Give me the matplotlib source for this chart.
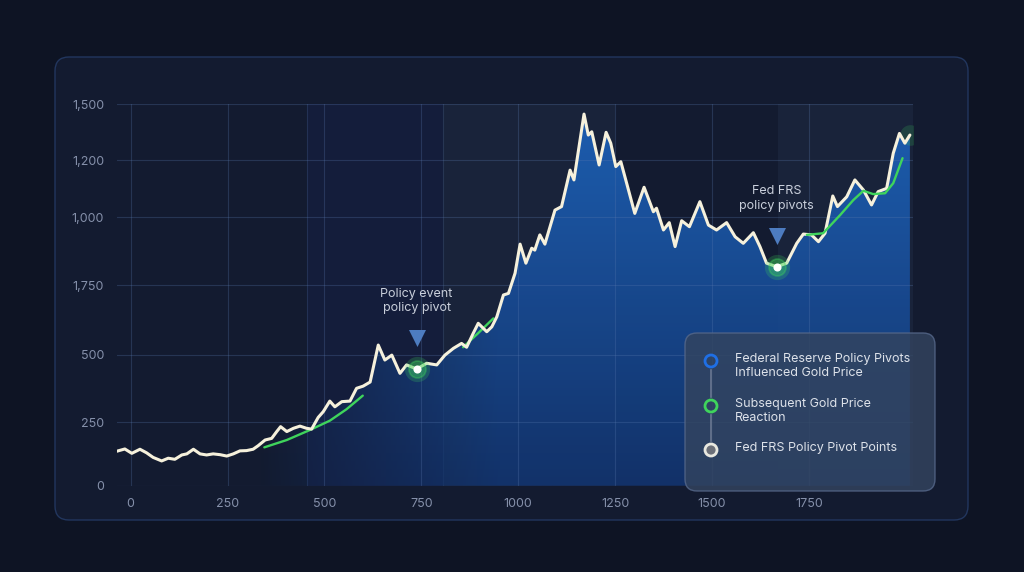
import numpy as np
import matplotlib
matplotlib.use("Agg")
import matplotlib.pyplot as plt
from matplotlib.patches import FancyBboxPatch, Circle, Polygon
from matplotlib import transforms

plt.rcParams['font.family'] = ['Inter', 'DejaVu Sans']

# gold price trace
gold_x = [-40, -15, 3, 24, 41, 58, 80, 97, 114, 132, 145, 162, 179, 196, 213, 231, 248, 265, 282, 299,
          316, 329, 347, 364, 377, 387, 403, 420, 437, 454, 467, 484, 497, 514, 527, 545, 566, 583, 600, 618,
          639, 656, 674, 695, 712, 738, 764, 790, 811, 833, 854, 867, 884, 897, 919, 932, 945, 962, 975, 992,
          1005, 1020, 1035, 1043, 1056, 1069, 1095, 1112, 1134, 1144, 1170, 1181, 1190, 1209, 1227, 1239, 1252, 1265, 1280, 1301,
          1325, 1349, 1357, 1375, 1390, 1405, 1422, 1442, 1469, 1491, 1512, 1538, 1560, 1581, 1607, 1624, 1641, 1667, 1693, 1719,
          1736, 1757, 1775, 1792, 1812, 1824, 1848, 1869, 1891, 1912, 1929, 1951, 1968, 1984, 1998, 2011]
gold_y = [125, 135, 119, 134, 121, 104, 91, 101, 97, 113, 117, 134, 117, 113, 117, 114, 109, 117, 128, 129,
          134, 147, 168, 174, 199, 217, 199, 211, 219, 211, 208, 251, 272, 311, 290, 309, 311, 358, 366, 381,
          517, 462, 480, 413, 444, 429, 450, 444, 480, 505, 523, 509, 560, 597, 566, 584, 621, 701, 707, 781,
          888, 818, 873, 866, 922, 888, 1013, 1026, 1160, 1124, 1366, 1289, 1301, 1179, 1299, 1259, 1173, 1191, 1112, 1001,
          1097, 1007, 1020, 940, 967, 879, 974, 952, 1044, 958, 940, 967, 915, 891, 930, 879, 818, 805, 818, 891,
          925, 922, 897, 928, 1065, 1026, 1062, 1124, 1087, 1032, 1081, 1093, 1222, 1295, 1259, 1289]

# green reaction curves
react1_x = [345, 403, 463, 514, 557, 599]
react1_y = [141, 168, 205, 239, 281, 331]
react2_x = [858, 897, 936]
react2_y = [509, 561, 615]
react3_x = [1745, 1787, 1831, 1865, 1891, 1916, 1947, 1968, 1992]
react3_y = [922, 928, 995, 1050, 1084, 1072, 1075, 1112, 1204]

# pivot points and their captions
pivot_x = [738, 1667]
pivot_y = [429, 805]
pivot_text = ["Policy event\npolicy pivot", "Fed FRS\npolicy pivots"]

# shaded periods
navy_bands = [(455, 807)]
slate_bands = [(807, 1250), (1670, 2020)]

x_ticks = [0, 250, 500, 750, 1000, 1250, 1500, 1750]
y_tick_pos = [0, 233, 481, 736, 986, 1196, 1402]
y_tick_labels = ["0", "250", "500", "1,750", "1,000", "1,200", "1,500"]

legend_labels = ["Federal Reserve Policy Pivots\nInfluenced Gold Price",
                 "Subsequent Gold Price\nReaction",
                 "Fed FRS Policy Pivot Points"]
legend_edge = ["#1f6fe5", "#3fd45c", "#e8e8e0"]
legend_face = ["none", "none", "#6b6f78"]

BG = "#0e1424"
CARD = "#131b30"
GRID = "#5a7ab0"
TICK = "#8590aa"

fig = plt.figure(figsize=(10.24, 5.72), dpi=100, facecolor=BG)
pix = transforms.IdentityTransform()

card = FancyBboxPatch((55, 52), 913, 463, boxstyle="round,pad=0,rounding_size=14",
                      transform=pix, facecolor=CARD, edgecolor="#22365e", lw=1.0, zorder=0)
fig.add_artist(card)

ax = fig.add_axes([116.7 / 1024, 1 - 485.7 / 572, (913 - 116.7) / 1024, (485.7 - 104.3) / 572])
ax.set_facecolor("none")
ax.set_xlim(-36, 2019)
ax.set_ylim(0, 1402)

for a, b in navy_bands:
    ax.axvspan(a, b, color="#1a2a6a", alpha=0.2, lw=0, zorder=0)
    ax.axvline(a, color=GRID, alpha=0.22, lw=0.8, zorder=1)
    ax.axvline(b, color=GRID, alpha=0.22, lw=0.8, zorder=1)
for a, b in slate_bands:
    ax.axvspan(a, b, color="#3a4f70", alpha=0.16, lw=0, zorder=0)

ax.set_xticks(x_ticks)
ax.set_yticks(y_tick_pos)
ax.set_yticklabels(y_tick_labels)
ax.set_axisbelow(False)
ax.grid(True, color=GRID, alpha=0.28, lw=0.8)
ax.tick_params(colors=TICK, labelsize=9, length=0, pad=9)
for s in ax.spines.values():
    s.set_visible(False)

# gradient area under the curve
gx = np.linspace(-36, 2019, 400)
gy = np.linspace(0, 1402, 200)
GX, GY = np.meshgrid(gx, gy)
top = np.array([0x1e, 0x62, 0xb8]) / 255
bot = np.array([0x12, 0x33, 0x6c]) / 255
t = (GY / 1402)[..., None]
rgb = bot + (top - bot) * t
alpha = np.clip((GX - 330) / 620, 0, 1) * 0.95
img = np.dstack([rgb, alpha])
im = ax.imshow(img, extent=(-36, 2019, 0, 1402), origin="lower", aspect="auto", zorder=2,
               interpolation="bilinear")
poly = Polygon(np.column_stack([gold_x + [gold_x[-1], gold_x[0]], gold_y + [0, 0]]),
               closed=True, facecolor="none", edgecolor="none", transform=ax.transData)
ax.add_patch(poly)
im.set_clip_path(poly)

ax.plot(react1_x, react1_y, color="#3fd45c", lw=1.7, zorder=3, solid_capstyle="round")
ax.plot(react2_x, react2_y, color="#3fd45c", lw=1.7, zorder=3, solid_capstyle="round")
ax.plot(react3_x, react3_y, color="#3fd45c", lw=1.7, zorder=5, solid_capstyle="round")
ax.plot(gold_x, gold_y, color="#f6f1dc", lw=2.2, zorder=4, solid_joinstyle="round", solid_capstyle="round")

# end-of-line glow
ax.scatter(gold_x[-1], gold_y[-1], s=220, color="#3fd45c", alpha=0.18, lw=0, zorder=3)

# pivot markers
ax.scatter(pivot_x, pivot_y, s=330, color="#3fd45c", alpha=0.22, lw=0, zorder=6)
ax.scatter(pivot_x, pivot_y, s=150, facecolor="#3fd45c", alpha=0.35, edgecolor="#3fd45c", lw=1.2, zorder=6)
ax.scatter(pivot_x, pivot_y, s=34, color="#ffffff", lw=0, zorder=7)
tri = transforms.offset_copy(ax.transData, fig=fig, y=22, units="points")
ax.scatter(pivot_x, pivot_y, s=150, marker="v", color="#4d7cc0", lw=0, zorder=6, transform=tri)
for px, py, txt in zip(pivot_x, pivot_y, pivot_text):
    ax.annotate(txt, xy=(px, py), xytext=(0, 49), textcoords="offset points",
                ha="center", va="center", color="#c9cfdb", fontsize=9, linespacing=1.3, zorder=8)

# legend panel
panel = FancyBboxPatch((685, 81), 250, 158, boxstyle="round,pad=0,rounding_size=12",
                       transform=pix, facecolor="#33445f", alpha=0.82, edgecolor="#56688a", lw=1.0, zorder=10)
fig.add_artist(panel)
leg_y = [361, 406, 450]
for i in range(len(legend_labels)):
    cy = 572 - leg_y[i]
    fig.add_artist(Circle((711, cy), 6, transform=pix, facecolor=legend_face[i],
                          edgecolor=legend_edge[i], lw=2.0, zorder=12))
    if i < len(legend_labels) - 1:
        fig.add_artist(plt.Line2D([711, 711], [cy - 9, 572 - leg_y[i + 1] + 9], transform=pix,
                                  color="#6a7892", lw=1.2, zorder=11))
    fig.text(735 / 1024, 1 - (leg_y[i] - 8) / 572, legend_labels[i], ha="left", va="top",
             color="#dde2ea", fontsize=9, linespacing=1.25, zorder=12)

fig.savefig("out.png", dpi=100, facecolor=BG)
